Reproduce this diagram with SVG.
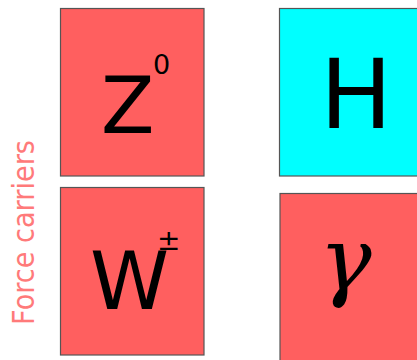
<svg xmlns="http://www.w3.org/2000/svg" width="417" height="360" viewBox="0 0 417 360">
<style>
.box{stroke:#555;stroke-width:1.2}
.red{fill:#ff5f5f}
.cyan{fill:#00ffff}
.sym{font-family:"DejaVu Sans",sans-serif;fill:#000}
.lbl{font-family:"DejaVu Sans",sans-serif;fill:#ff7a7a;font-size:30px}
</style>
<rect width="417" height="360" fill="#fff"/>
<g id="label">
<text class="lbl" transform="translate(34,325) rotate(-90)" textLength="185" lengthAdjust="spacingAndGlyphs">Force carriers</text>
</g>
<g id="Z0">
<rect class="box red" x="60.5" y="8.5" width="143.5" height="167.5"/>
<text class="sym" x="101" y="133" font-size="78">Z</text>
<text class="sym" x="153" y="74" font-size="27">0</text>
</g>
<g id="H">
<rect class="box cyan" x="279.5" y="8.5" width="150" height="167.5"/>
<text class="sym" x="320" y="128" font-size="96">H</text>
</g>
<g id="W">
<rect class="box red" x="60.5" y="187.5" width="143.5" height="167.5"/>
<text class="sym" x="90" y="309" font-size="80">W</text>
<text class="sym" x="157" y="250" font-size="28">±</text>
</g>
<g id="gamma">
<rect class="box red" x="280" y="193.5" width="150" height="180"/>
<text x="319" y="290" font-size="88" font-style="italic" font-family="'DejaVu Serif',serif" fill="#000">γ</text>
</g>
<g id="connectors"></g>
</svg>
